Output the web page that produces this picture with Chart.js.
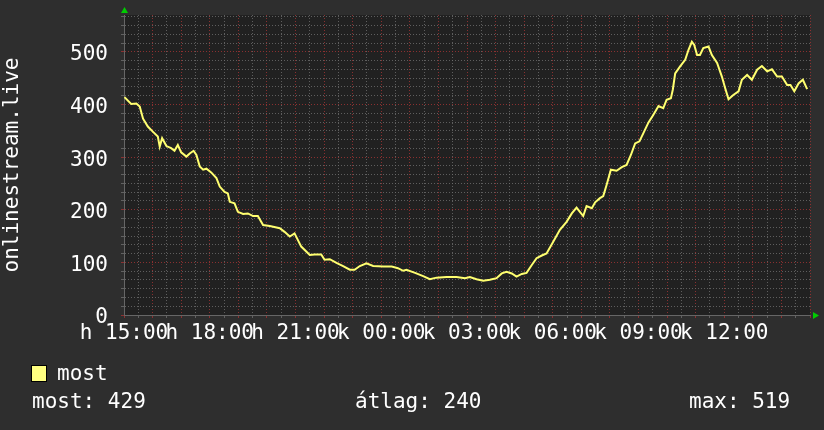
<!DOCTYPE html>
<html>
<head>
<meta charset="utf-8">
<script src="https://cdn.jsdelivr.net/npm/chart.js@4/dist/chart.umd.min.js"></script>
<style>
  body { margin: 0; background: #2e2e2e; }
  #wrap { position: relative; width: 824px; height: 430px; }
  .lg { position: absolute; font: 21px "DejaVu Sans Mono", monospace; line-height: 21px; color: #fff; white-space: pre; }
  #box { position: absolute; left: 31px; top: 365px; width: 14px; height: 15px; background: #ffff80; border: 1px solid #000; }
</style>
</head>
<body>
<div id="wrap">
  <canvas id="viewChart" width="824" height="430"></canvas>
  <div id="box"></div>
  <div class="lg" style="left:57px; top:363px">most</div>
  <div class="lg" style="left:32px; top:391px">most: 429</div>
  <div class="lg" style="left:355px; top:391px">átlag: 240</div>
  <div class="lg" style="left:689px; top:391px">max: 519</div>
</div>
<script>
// minutes since 15:00
const minutes = [1, 15, 26, 33, 40, 50, 61, 71, 75, 80, 89, 99, 106, 113, 120, 131, 138, 146, 152, 159,
    166, 173, 183, 194, 201, 211, 218, 222, 232, 239, 250, 260, 271, 281, 292, 306, 327, 337, 348, 358,
    372, 390, 400, 414, 421, 432, 446, 460, 474, 484, 495, 509, 523, 544, 562, 575, 586, 593, 611, 628,
    642, 656, 677, 698, 716, 726, 740, 754, 768, 782, 793, 803, 814, 824, 835, 845, 856, 866, 877, 887,
    901, 915, 929, 940, 950, 957, 964, 971, 982, 989, 999, 1006, 1013, 1022, 1034, 1045, 1055, 1064, 1073, 1082,
    1090, 1101, 1111, 1122, 1132, 1139, 1148, 1152, 1157, 1167, 1178, 1185, 1192, 1197, 1203, 1209, 1216, 1227, 1234, 1245,
    1255, 1262, 1269, 1279, 1290, 1297, 1308, 1318, 1329, 1339, 1350, 1360, 1371, 1381, 1392, 1399, 1407, 1416, 1425, 1434];
const viewers = [414, 401, 402, 396, 373, 358, 348, 339, 320, 336, 321, 317, 312, 323, 309, 301, 307, 312, 304, 282,
    276, 278, 271, 260, 244, 234, 231, 215, 212, 196, 192, 193, 188, 188, 171, 169, 165, 158, 149, 155,
    130, 114, 115, 115, 105, 106, 99, 93, 86, 86, 93, 98, 93, 92, 92, 89, 84, 86, 80, 74,
    68, 71, 72, 72, 70, 72, 68, 65, 67, 70, 79, 82, 79, 73, 78, 80, 95, 108, 113, 117,
    139, 162, 177, 193, 204, 196, 188, 207, 203, 214, 222, 226, 247, 276, 274, 281, 285, 304, 326, 330,
    345, 366, 380, 397, 393, 409, 412, 428, 459, 472, 485, 504, 519, 513, 494, 494, 507, 510, 494, 479,
    453, 431, 410, 418, 425, 447, 456, 447, 466, 473, 463, 467, 453, 453, 437, 437, 425, 440, 447, 429];
const xLabels = ['h 15:00', 'h 18:00', 'h 21:00', 'k 00:00', 'k 03:00', 'k 06:00', 'k 09:00', 'k 12:00'];
const yLabels = [0, 100, 200, 300, 400, 500];

const FONT = { family: 'DejaVu Sans Mono', size: 21, lineHeight: 1.2 };
const MAJOR = 'rgba(150, 50, 50, 0.9)';
const MINOR = 'rgba(110, 110, 110, 0.8)';

const isMajorY = v => Math.abs(v / 100 - Math.round(v / 100)) < 0.001;

// background + green arrows like rrdtool
const rrdDeco = {
    id: 'rrdDeco',
    beforeDraw(chart) {
        const { ctx, chartArea: a } = chart;
        ctx.save();
        ctx.fillStyle = '#2e2e2e';
        ctx.fillRect(0, 0, chart.width, chart.height);
        ctx.fillStyle = '#212121';
        ctx.fillRect(a.left, a.top, a.right - a.left, a.bottom - a.top);
        ctx.restore();
    },
    afterDraw(chart) {
        const { ctx, chartArea: a } = chart;
        ctx.save();
        ctx.fillStyle = '#00cc00';
        ctx.beginPath();
        ctx.moveTo(a.left - 3, a.top - 2);
        ctx.lineTo(a.left + 4, a.top - 2);
        ctx.lineTo(a.left + 0.5, a.top - 8);
        ctx.fill();
        ctx.beginPath();
        ctx.moveTo(a.right + 3, a.bottom - 3);
        ctx.lineTo(a.right + 3, a.bottom + 4);
        ctx.lineTo(a.right + 9, a.bottom + 0.5);
        ctx.fill();
        ctx.restore();
    }
};

const ctx = document.getElementById('viewChart').getContext('2d');
const viewChart = new Chart(ctx, {
    type: 'line',
    data: {
        datasets: [{
            label: 'most',
            data: minutes.map((m, i) => ({ x: m, y: viewers[i] })),
            borderColor: '#ffff70',
            borderWidth: 2,
            pointRadius: 0,
            tension: 0,
            fill: false,
        }],
    },
    options: {
        responsive: false,
        animation: false,
        devicePixelRatio: 1,
        layout: { padding: { top: 15, right: 14, bottom: 0, left: 0 } },
        plugins: { legend: { display: false }, tooltip: { enabled: false } },
        scales: {
            x: {
                type: 'linear',
                min: 0,
                max: 1440,
                afterBuildTicks: scale => {
                    const t = [];
                    for (let v = 0; v <= 1440; v += 30) t.push({ value: v });
                    scale.ticks = t;
                },
                afterFit: scale => { scale.height = 115; },
                ticks: {
                    autoSkip: false,
                    maxRotation: 0,
                    minRotation: 0,
                    padding: 3,
                    color: '#ffffff',
                    font: FONT,
                    callback: v => (v % 180 === 0 && v < 1440) ? xLabels[v / 180] : '',
                },
                grid: {
                    color: c => (c.tick && c.tick.value % 60 === 0) ? MAJOR : MINOR,
                    tickLength: 3,
                },
                border: { color: '#666666', dash: [1, 2] },
            },
            y: {
                min: 0,
                max: 570,
                afterBuildTicks: scale => {
                    const t = [];
                    for (let i = 0; i * 100 / 6 <= 570; i++) t.push({ value: i * 100 / 6 });
                    scale.ticks = t;
                },
                afterFit: scale => {
                    scale.width = 124;
                    scale.paddingTop = 0; // don't let label overflow push the plot down
                    scale.paddingBottom = 0;
                },
                ticks: {
                    autoSkip: false,
                    padding: 13,
                    labelOffset: 3,
                    color: '#ffffff',
                    font: FONT,
                    callback: v => isMajorY(v) && yLabels.includes(Math.round(v)) ? String(Math.round(v)) : '',
                },
                grid: {
                    color: c => (c.tick && isMajorY(c.tick.value)) ? MAJOR : MINOR,
                    tickLength: 3,
                },
                border: { color: '#666666', dash: [1, 2] },
                title: {
                    display: true,
                    text: 'onlinestream.live',
                    color: '#ffffff',
                    font: { family: 'DejaVu Sans Mono', size: 21, lineHeight: 1 },
                    padding: { top: 2, bottom: 0 },
                },
            },
        },
    },
    plugins: [rrdDeco],
});
</script>
</body>
</html>
